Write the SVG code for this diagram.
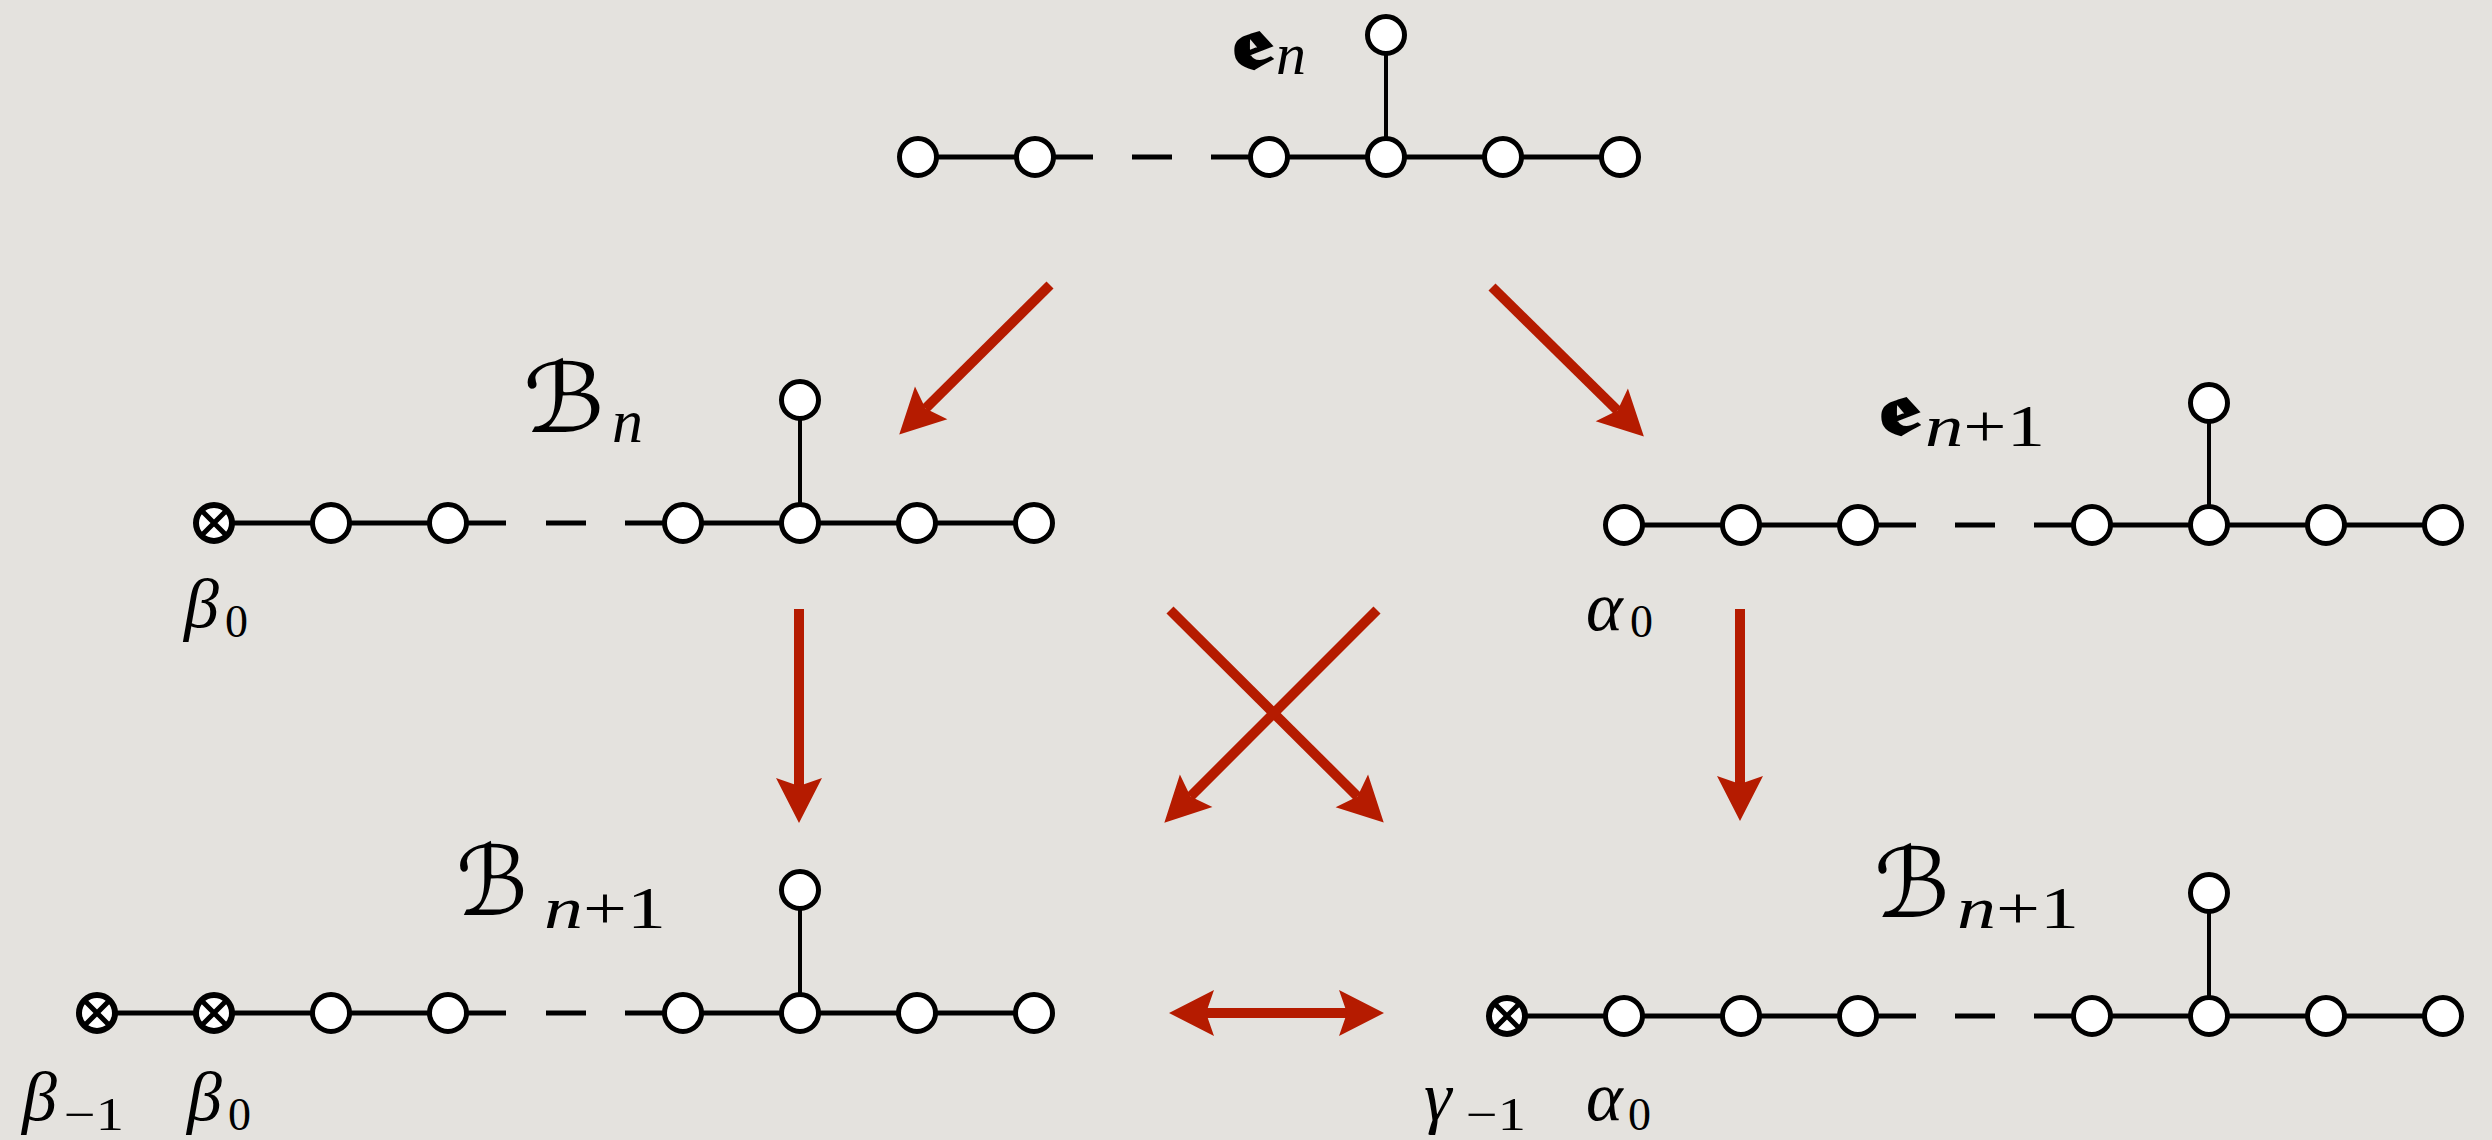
<svg xmlns="http://www.w3.org/2000/svg" width="2492" height="1140" viewBox="0 0 2492 1140">
<style>
.c{fill:#fff;stroke:#000;stroke-width:5}
.x{fill:#fff;stroke:#000;stroke-width:6}
.xl{stroke:#000;stroke-width:5;stroke-linecap:butt}
.e{stroke:#000;stroke-width:5;fill:none}
.v{stroke:#000;stroke-width:4;fill:none}
.arr{stroke:#b51b00;stroke-width:10;fill:none}
text{fill:#000}
.t{font-family:"Liberation Serif",serif;font-style:italic;font-size:70px}
.s{font-family:"Liberation Serif",serif;font-size:46px}
.sn{font-family:"Liberation Serif",serif;font-size:60px}
.si{font-style:italic}
.fr{font-family:"DejaVu Serif","DejaVu Sans","Noto Sans",serif;font-size:70px;font-weight:bold}
.sc{font-family:"DejaVu Serif","DejaVu Sans",serif;font-size:96px}
</style>
<defs>
<marker id="ah" viewBox="-10 -26 52 52" refX="0" refY="0" markerWidth="52" markerHeight="52" markerUnits="userSpaceOnUse" orient="auto-start-reverse">
<path d="M37,0 L-8,-23 L0,0 L-8,23 Z" fill="#b51b00"/>
</marker>
<g id="ox"><circle r="18" class="x"/><path d="M-12.7,-12.7 L12.7,12.7 M12.7,-12.7 L-12.7,12.7" class="xl"/></g>
</defs>
<rect width="2492" height="1140" fill="#e4e2de"/>

<g id="diagram-e-n">
<path class="e" d="M918,157 H1093 M1132,157 H1172 M1211,157 H1620"/>
<path class="v" d="M1386,35 V157"/>
<circle class="c" cx="918" cy="157" r="18.5"/>
<circle class="c" cx="1035" cy="157" r="18.5"/>
<circle class="c" cx="1269" cy="157" r="18.5"/>
<circle class="c" cx="1386" cy="157" r="18.5"/>
<circle class="c" cx="1503" cy="157" r="18.5"/>
<circle class="c" cx="1620" cy="157" r="18.5"/>
<circle class="c" cx="1386" cy="35" r="18.5"/>
<text class="fr" x="1231" y="68" textLength="42" lengthAdjust="spacingAndGlyphs">𝖊</text>
<text class="sn si" x="1276" y="74">n</text>
</g>

<g id="diagram-B-n">
<path class="e" d="M214,523 H506 M546,523 H586 M625,523 H1034"/>
<path class="v" d="M800,400 V523"/>
<use href="#ox" x="214" y="523"/>
<circle class="c" cx="331" cy="523" r="18.5"/>
<circle class="c" cx="448" cy="523" r="18.5"/>
<circle class="c" cx="683" cy="523" r="18.5"/>
<circle class="c" cx="800" cy="523" r="18.5"/>
<circle class="c" cx="917" cy="523" r="18.5"/>
<circle class="c" cx="1034" cy="523" r="18.5"/>
<circle class="c" cx="800" cy="400" r="18.5"/>
<text class="sc" x="523" y="432" textLength="82" lengthAdjust="spacingAndGlyphs">ℬ</text>
<text class="sn si" x="612" y="442" style="font-size:62px">n</text>
<text class="t" x="184" y="627">β</text>
<text class="s" x="225" y="637">0</text>
</g>

<g id="diagram-e-n1">
<path class="e" d="M1624,525 H1916 M1955,525 H1995 M2034,525 H2443"/>
<path class="v" d="M2209,403 V525"/>
<circle class="c" cx="1624" cy="525" r="18.5"/>
<circle class="c" cx="1741" cy="525" r="18.5"/>
<circle class="c" cx="1858" cy="525" r="18.5"/>
<circle class="c" cx="2092" cy="525" r="18.5"/>
<circle class="c" cx="2209" cy="525" r="18.5"/>
<circle class="c" cx="2326" cy="525" r="18.5"/>
<circle class="c" cx="2443" cy="525" r="18.5"/>
<circle class="c" cx="2209" cy="403" r="18.5"/>
<text class="fr" x="1878" y="434" textLength="42" lengthAdjust="spacingAndGlyphs">𝖊</text>
<text class="sn" x="1925" y="446" textLength="120" lengthAdjust="spacingAndGlyphs"><tspan class="si">n</tspan>+1</text>
<text class="t" x="1586" y="630">α</text>
<text class="s" x="1630" y="637">0</text>
</g>

<g id="diagram-B-n1-left">
<path class="e" d="M97,1013 H506 M546,1013 H586 M625,1013 H1034"/>
<path class="v" d="M800,890 V1013"/>
<use href="#ox" x="97" y="1013"/>
<use href="#ox" x="214" y="1013"/>
<circle class="c" cx="331" cy="1013" r="18.5"/>
<circle class="c" cx="448" cy="1013" r="18.5"/>
<circle class="c" cx="683" cy="1013" r="18.5"/>
<circle class="c" cx="800" cy="1013" r="18.5"/>
<circle class="c" cx="917" cy="1013" r="18.5"/>
<circle class="c" cx="1034" cy="1013" r="18.5"/>
<circle class="c" cx="800" cy="890" r="18.5"/>
<text class="sc" x="456" y="915" textLength="72" lengthAdjust="spacingAndGlyphs">ℬ</text>
<text class="sn" x="544" y="928" textLength="122" lengthAdjust="spacingAndGlyphs"><tspan class="si">n</tspan>+1</text>
<text class="t" x="22" y="1120">β</text>
<text class="s" x="64" y="1130" textLength="60" lengthAdjust="spacingAndGlyphs">−1</text>
<text class="t" x="187" y="1120">β</text>
<text class="s" x="228" y="1130">0</text>
</g>

<g id="diagram-B-n1-right">
<path class="e" d="M1507,1016 H1916 M1955,1016 H1995 M2034,1016 H2443"/>
<path class="v" d="M2209,893 V1016"/>
<use href="#ox" x="1507" y="1016"/>
<circle class="c" cx="1624" cy="1016" r="18.5"/>
<circle class="c" cx="1741" cy="1016" r="18.5"/>
<circle class="c" cx="1858" cy="1016" r="18.5"/>
<circle class="c" cx="2092" cy="1016" r="18.5"/>
<circle class="c" cx="2209" cy="1016" r="18.5"/>
<circle class="c" cx="2326" cy="1016" r="18.5"/>
<circle class="c" cx="2443" cy="1016" r="18.5"/>
<circle class="c" cx="2209" cy="893" r="18.5"/>
<text class="sc" x="1874" y="917" textLength="76" lengthAdjust="spacingAndGlyphs">ℬ</text>
<text class="sn" x="1957" y="928" textLength="122" lengthAdjust="spacingAndGlyphs"><tspan class="si">n</tspan>+1</text>
<text class="t" x="1424" y="1120">γ</text>
<text class="s" x="1466" y="1130" textLength="60" lengthAdjust="spacingAndGlyphs">−1</text>
<text class="t" x="1586" y="1120">α</text>
<text class="s" x="1628" y="1130">0</text>
</g>

<g id="connectors">
<line class="arr" x1="1050" y1="285" x2="925.5" y2="408.5" marker-end="url(#ah)"/>
<line class="arr" x1="1492" y1="287" x2="1617.5" y2="410.5" marker-end="url(#ah)"/>
<line class="arr" x1="799" y1="609" x2="799" y2="786" marker-end="url(#ah)"/>
<line class="arr" x1="1740" y1="609" x2="1740" y2="784" marker-end="url(#ah)"/>
<line class="arr" x1="1170" y1="610" x2="1357.5" y2="796.5" marker-end="url(#ah)"/>
<line class="arr" x1="1377" y1="610" x2="1190.5" y2="796.5" marker-end="url(#ah)"/>
<line class="arr" x1="1206" y1="1013" x2="1347" y2="1013" marker-start="url(#ah)" marker-end="url(#ah)"/>
</g>
</svg>
